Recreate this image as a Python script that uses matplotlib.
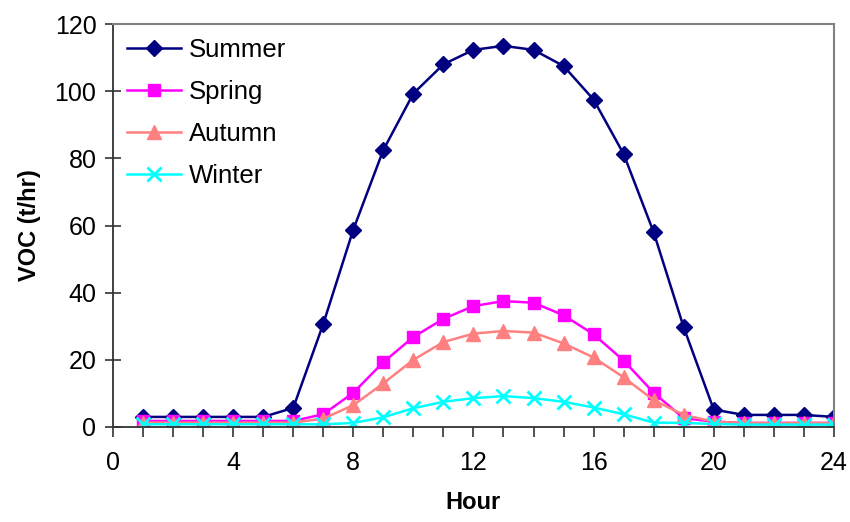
import matplotlib
matplotlib.use("Agg")
import matplotlib.pyplot as plt
from matplotlib.ticker import MultipleLocator

hours = list(range(1, 25))

summer = [3.0, 3.0, 3.0, 3.0, 3.0, 5.7, 30.7, 58.8, 82.5, 99.3, 108.0, 112.3,
          113.5, 112.3, 107.5, 97.5, 81.3, 58.0, 29.7, 5.2, 3.6, 3.6, 3.6, 3.0]
spring = [1.8, 1.8, 1.8, 1.8, 1.8, 1.8, 3.8, 10.2, 19.3, 26.8, 32.2, 36.0,
          37.5, 37.0, 33.3, 27.6, 19.8, 10.2, 2.6, 1.6, 1.2, 1.2, 1.2, 1.2]
autumn = [1.3, 1.3, 1.3, 1.3, 1.3, 1.3, 2.5, 6.5, 13.0, 20.0, 25.3, 27.8,
          28.6, 28.1, 24.9, 20.7, 14.8, 8.0, 3.6, 1.6, 1.2, 1.2, 1.2, 1.2]
winter = [0.8, 0.8, 0.8, 0.8, 0.8, 0.8, 0.8, 1.2, 2.9, 5.6, 7.5, 8.6,
          9.2, 8.6, 7.5, 5.8, 3.8, 1.3, 1.2, 0.9, 0.7, 0.7, 0.7, 0.7]

plt.rcParams['font.family'] = ['Liberation Sans', 'DejaVu Sans']

fig = plt.figure(figsize=(8.5, 5.22), dpi=100)
ax = fig.add_axes([0.133, 0.182, 0.848, 0.772])

ax.plot(hours, summer, color='#000080', lw=1.8, marker='D', ms=8.5, label='Summer')
ax.plot(hours, spring, color='#FF00FF', lw=1.8, marker='s', ms=8.5, label='Spring')
ax.plot(hours, autumn, color='#FF8080', lw=1.8, marker='^', ms=9.5, label='Autumn')
ax.plot(hours, winter, color='#00FFFF', lw=1.8, marker='x', ms=9.5, mew=2, label='Winter')

ax.set_xlim(0, 24)
ax.set_ylim(0, 120)
ax.xaxis.set_major_locator(MultipleLocator(4))
ax.xaxis.set_minor_locator(MultipleLocator(1))
ax.yaxis.set_major_locator(MultipleLocator(20))

ax.tick_params(axis='x', which='both', direction='out', length=7, width=1.2,
               color='#333333', labelsize=18, pad=10)
ax.tick_params(axis='y', which='major', direction='inout', length=12, width=1.2,
               color='#333333', labelsize=18, pad=6)

for side in ('left', 'bottom'):
    ax.spines[side].set_color('#333333')
    ax.spines[side].set_linewidth(1.3)
for side in ('top', 'right'):
    ax.spines[side].set_color('#808080')
    ax.spines[side].set_linewidth(1.5)

ax.set_xlabel('Hour', fontsize=17, fontweight='bold', labelpad=12)
ax.set_ylabel('VOC (t/hr)', fontsize=17, fontweight='bold', labelpad=10)

ax.legend(loc='upper left', frameon=False, fontsize=18.5, handlelength=2.1,
          handletextpad=0.3, labelspacing=0.7, borderaxespad=0.25,
          borderpad=0.3)

fig.savefig('out.png', dpi=100)
